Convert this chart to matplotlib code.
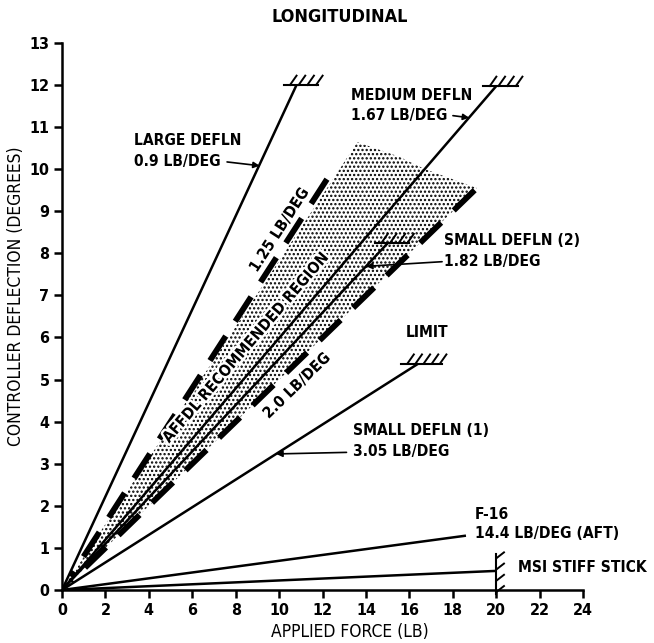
import numpy as np
import matplotlib.pyplot as plt
import matplotlib.patheffects as pe

# stiffness lines: force gradient (lb/deg) and force where the line stops (lb)
line_names = ["LARGE DEFLN", "MEDIUM DEFLN", "SMALL DEFLN (2)", "SMALL DEFLN (1)", "F-16", "MSI STIFF STICK"]
gradients = [0.9, 1.67, 1.82, 3.05, 14.4, 44.0]
max_force = [10.8, 20.0, 15.0, 16.4, 18.6, 20.0]

# AFFDL recommended region: boundary gradients and the stippled outline
affdl_gradients = [1.25, 2.0]
affdl_max_force = [12.2, 19.0]
region_force = [0, 13.6, 15.5, 16.7, 19.1]
region_defl = [0, 10.64, 10.3, 10.0, 9.55]

x_ticks = list(range(0, 25, 2))
y_ticks = list(range(0, 14))

plt.rcParams["font.family"] = ["DejaVu Sans"]
plt.rcParams["font.stretch"] = "condensed"
plt.rcParams["hatch.linewidth"] = 1.1

fig = plt.figure(figsize=(6.54, 6.43), dpi=100)
ax = fig.add_axes([0.0948, 0.0824, 0.797, 0.851])
ax.set_xlim(0, 24)
ax.set_ylim(0, 13)

for side in ["top", "right"]:
    ax.spines[side].set_visible(False)
for side in ["left", "bottom"]:
    ax.spines[side].set_linewidth(1.8)
ax.set_xticks(x_ticks)
ax.set_yticks(y_ticks)
ax.tick_params(length=6, width=1.8, labelsize=11.5, pad=3)
for lab in ax.get_xticklabels() + ax.get_yticklabels():
    lab.set_fontweight("bold")

# stippled region
ax.fill(region_force, region_defl, facecolor="white", edgecolor="black",
        linewidth=0, hatch="....", zorder=1)

# dashed AFFDL boundaries, drawn from the top so the last dash is whole
for g, fmax in zip(affdl_gradients, affdl_max_force):
    f = np.array([fmax, 0.4])
    ax.plot(f, f / g, color="black", lw=4.2, dashes=(5, 3.0),
            solid_capstyle="butt", dash_capstyle="butt", zorder=3)


def stop_h(x, y, left=0.6, right=1.0, n=4):
    ax.plot([x - left, x + right], [y, y], color="black", lw=1.5, clip_on=False, zorder=4)
    for xi in np.linspace(x - left + 0.3, x + right - 0.1, n):
        ax.plot([xi, xi + 0.3], [y, y + 0.22], color="black", lw=1.4, clip_on=False, zorder=4)


def stop_v(x, y, below=0.55, above=0.4, n=4):
    ax.plot([x, x], [y - below, y + above], color="black", lw=1.5, clip_on=False, zorder=4)
    for yi in np.linspace(y - below + 0.05, y + above - 0.1, n):
        ax.plot([x, x + 0.35], [yi, yi + 0.14], color="black", lw=1.4, clip_on=False, zorder=4)


for name, g, fmax in zip(line_names, gradients, max_force):
    f = np.array([0, fmax])
    ax.plot(f, f / g, color="black", lw=1.8, solid_capstyle="butt", zorder=4)
    if name == "MSI STIFF STICK":
        stop_v(fmax, fmax / g)
    elif name == "SMALL DEFLN (1)":
        stop_h(fmax, fmax / g, left=0.8, right=1.1, n=5)
    elif name != "F-16":
        stop_h(fmax, fmax / g)

txt = dict(fontsize=11.2, fontweight="bold", color="black", va="center")
arrow = dict(arrowstyle="-|>", color="black", lw=1.2, mutation_scale=9, shrinkA=0, shrinkB=0)

ax.text(3.3, 10.69, "LARGE DEFLN", **txt)
ax.text(3.3, 10.17, "0.9 LB/DEG", **txt)
ax.annotate("", xy=(9.1, 10.08), xytext=(7.6, 10.17), arrowprops=arrow)

ax.text(13.3, 11.75, "MEDIUM DEFLN", **txt)
ax.text(13.3, 11.27, "1.67 LB/DEG", **txt)
ax.annotate("", xy=(18.75, 11.22), xytext=(18.0, 11.27), arrowprops=arrow)

ax.text(17.6, 8.3, "SMALL DEFLN (2)", **txt)
ax.text(17.6, 7.8, "1.82 LB/DEG", **txt)
ax.annotate("", xy=(14.0, 7.69), xytext=(17.5, 7.8), arrowprops=arrow)

ax.text(16.8, 6.12, "LIMIT", ha="center", **txt)
ax.text(13.4, 3.8, "SMALL DEFLN (1)", **txt)
ax.text(13.4, 3.3, "3.05 LB/DEG", **txt)
ax.annotate("", xy=(9.86, 9.86 / 3.05), xytext=(13.1, 3.27), arrowprops=arrow)

ax.text(19.0, 1.79, "F-16", **txt)
ax.text(19.0, 1.35, "14.4 LB/DEG (AFT)", **txt)
ax.text(21.0, 0.53, "MSI STIFF STICK", **txt)


def angle_of(g, x, y):
    return ax.transData.transform_angles(np.array([np.degrees(np.arctan(1.0 / g))]),
                                         np.array([[x, y]]))[0]


halo = [pe.withStroke(linewidth=3.5, foreground="white")]
rtxt = dict(fontsize=11.2, fontweight="bold", ha="center", va="center",
            rotation_mode="anchor", zorder=5, path_effects=halo)
ax.text(10.0, 8.55, "1.25 LB/DEG", rotation=angle_of(1.25, 10.0, 8.55), **rtxt)
ax.text(8.45, 5.75, "AFFDL RECOMMENDED REGION", rotation=angle_of(1.67, 8.45, 5.75), **rtxt)
ax.text(10.8, 4.85, "2.0 LB/DEG", rotation=angle_of(2.0, 10.8, 4.85), **rtxt)

fig.text(0.52, 0.974, "LONGITUDINAL", ha="center", va="center", fontsize=13, fontweight="bold")
fig.text(0.535, 0.017, "APPLIED FORCE (LB)", ha="center", va="center", fontsize=12.5)
fig.text(0.024, 0.54, "CONTROLLER DEFLECTION (DEGREES)", ha="center", va="center",
         rotation=90, fontsize=12.5)

fig.savefig("out.png", dpi=100)
